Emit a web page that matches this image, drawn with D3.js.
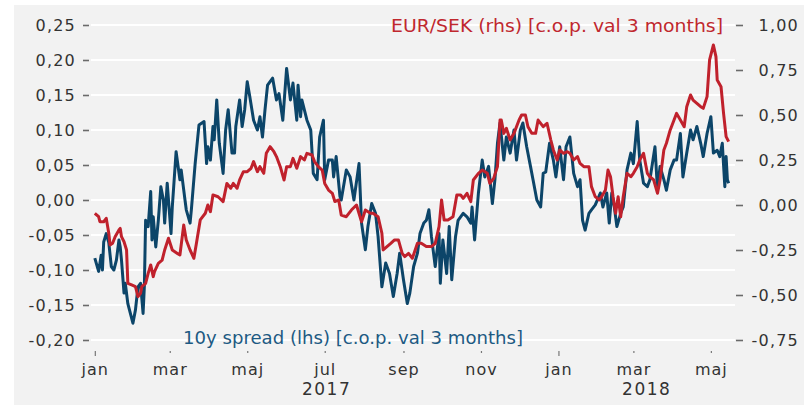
<!DOCTYPE html>
<html>
<head>
<meta charset="utf-8">
<script src="https://cdn.jsdelivr.net/npm/d3@7"></script>
<style>
  html, body { margin: 0; padding: 0; background: #ffffff; }
  svg { display: block; font-family: "DejaVu Sans", sans-serif; }
</style>
</head>
<body>
<svg id="chart" width="804" height="407"></svg>
<script>
// ---------- DATA ----------
// days since 2017-01-01
const spreadDays = [0,3,5,6,7,9,11,13,15,17,19,20,21,23,24,26,28,30,32,34,36,38,39,40,42,44,45,46,48,50,52,54,55,57,60,61,64,67,68,71,72,75,76,79,82,86,88,89,91,93,94,96,98,101,103,105,108,110,111,114,116,118,120,122,125,128,130,132,134,136,140,143,145,148,151,154,156,159,160,162,163,167,170,172,175,177,180,181,184,187,188,190,193,194,198,201,204,208,210,213,215,218,221,223,226,229,232,235,238,240,243,246,248,251,254,256,259,261,263,265,268,271,272,274,277,279,281,284,286,290,293,296,297,299,302,305,307,310,313,315,317,319,322,324,327,330,332,335,337,340,343,345,348,351,353,355,358,361,363,366,369,371,374,377,380,382,384,386,389,391,394,398,400,403,405,407,409,411,414,416,419,422,424,427,429,432,435,437,441,443,445,448,450,453,456,458,461,463,466,469,471,474,477,479,482,485,487,490,492,494,496,497,498,499];
const spreadValues = [-0.083,-0.102,-0.079,-0.100,-0.060,-0.048,-0.061,-0.095,-0.100,-0.086,-0.057,-0.067,-0.086,-0.133,-0.119,-0.148,-0.162,-0.176,-0.157,-0.124,-0.119,-0.162,-0.124,-0.029,-0.038,0.012,-0.057,-0.024,-0.067,-0.029,0.019,0.000,-0.033,0.024,-0.048,-0.010,0.069,0.029,0.043,0.000,-0.014,-0.033,-0.014,0.052,0.107,0.112,0.052,0.076,0.057,0.105,0.086,0.143,0.081,0.038,0.100,0.129,0.067,0.067,0.105,0.143,0.105,0.129,0.169,0.148,0.114,0.100,0.119,0.090,0.129,0.164,0.174,0.143,0.152,0.114,0.188,0.143,0.167,0.114,0.164,0.119,0.143,0.114,0.100,0.038,0.029,0.090,0.114,0.029,0.057,0.057,0.033,0.062,0.005,0.000,0.043,0.033,0.000,0.052,-0.033,-0.071,-0.038,-0.005,-0.019,-0.052,-0.124,-0.090,-0.105,-0.138,-0.105,-0.076,-0.114,-0.148,-0.133,-0.095,-0.076,-0.048,-0.033,-0.029,-0.014,-0.052,-0.095,-0.048,-0.119,-0.057,-0.105,-0.038,-0.114,-0.052,-0.029,-0.019,-0.024,-0.033,-0.010,-0.057,0.010,0.057,0.033,0.048,-0.005,0.029,0.081,0.110,0.057,0.090,0.067,0.100,0.057,0.100,0.110,0.076,0.048,0.029,0.000,-0.010,0.038,0.040,0.081,0.057,0.033,0.076,0.029,0.076,0.090,0.038,0.019,0.029,-0.029,-0.043,-0.019,-0.014,-0.007,0.010,-0.010,0.010,-0.033,0.010,-0.010,-0.038,-0.019,-0.010,0.043,0.067,0.052,0.112,0.057,0.024,0.019,0.029,0.076,0.014,0.048,0.029,0.014,0.043,0.057,0.057,0.095,0.033,0.067,0.100,0.086,0.105,0.081,0.062,0.095,0.119,0.067,0.071,0.062,0.081,0.019,0.062,0.029,0.024];

const eursekDays = [0,3,4,7,9,11,12,14,16,19,20,21,23,25,26,29,32,34,36,37,40,42,44,46,47,50,53,55,58,61,65,67,70,72,75,78,80,83,87,89,91,93,97,101,104,107,109,112,114,117,120,123,125,128,130,133,135,138,141,143,146,149,151,154,156,159,162,165,167,171,173,176,179,181,184,187,189,192,194,198,202,206,210,213,217,219,223,226,227,230,233,236,239,242,244,247,250,254,257,261,265,268,271,273,275,278,282,285,288,290,293,296,298,302,305,309,311,314,317,319,320,322,324,327,330,334,336,339,341,344,347,349,353,356,359,361,364,366,369,372,374,377,380,382,385,389,391,394,397,399,402,404,406,408,410,412,414,416,419,422,424,427,429,432,435,437,440,443,445,448,450,453,456,458,461,464,466,469,471,474,477,479,482,484,487,489,490,493,495,497,499];
const eursekValues = [-0.046,-0.065,-0.093,-0.093,-0.074,-0.157,-0.222,-0.213,-0.176,-0.139,-0.130,-0.176,-0.204,-0.250,-0.435,-0.444,-0.454,-0.509,-0.491,-0.454,-0.435,-0.380,-0.333,-0.398,-0.370,-0.324,-0.306,-0.250,-0.185,-0.250,-0.269,-0.278,-0.111,-0.194,-0.250,-0.296,-0.213,-0.083,-0.046,0.000,-0.037,0.056,0.046,0.019,0.120,0.093,0.120,0.093,0.139,0.185,0.185,0.204,0.241,0.185,0.213,0.176,0.287,0.324,0.296,0.269,0.213,0.139,0.213,0.213,0.259,0.204,0.269,0.250,0.287,0.278,0.241,0.213,
0.194,0.120,0.083,0.065,0.019,0.028,-0.056,-0.065,-0.028,0.000,-0.093,-0.028,-0.046,-0.046,-0.065,-0.157,-0.250,-0.231,-0.213,-0.194,-0.194,-0.269,-0.287,-0.269,-0.296,-0.213,-0.213,-0.231,-0.231,-0.213,-0.120,0.028,-0.083,-0.083,-0.065,0.056,0.056,0.037,0.065,0.019,0.139,0.176,0.194,0.176,0.120,0.148,0.213,0.472,0.472,0.398,0.426,0.361,0.398,0.472,0.500,0.500,0.435,0.398,0.398,0.472,
0.435,0.454,0.361,0.306,0.250,0.306,0.287,0.296,0.287,0.250,0.269,0.231,0.213,0.213,0.102,0.046,0.028,0.046,0.083,0.194,0.157,0.046,-0.046,0.046,-0.065,0.046,0.176,0.157,0.176,0.213,0.250,0.287,0.176,0.157,0.139,0.065,0.139,0.306,0.343,0.417,0.472,0.509,0.472,0.435,0.546,0.611,0.583,0.565,0.546,0.537,0.602,0.806,0.889,0.824,0.694,0.657,0.509,0.380,0.352];

const leftTicks = [-0.20,-0.15,-0.10,-0.05,0.00,0.05,0.10,0.15,0.20,0.25];
const rightTicks = [-0.75,-0.50,-0.25,0.00,0.25,0.50,0.75,1.00];
const monthTicks = ["2017-01-01","2017-03-01","2017-05-01","2017-07-01","2017-09-01","2017-11-01","2018-01-01","2018-03-01","2018-05-01"];
const monthLabels = ["jan","mar","maj","jul","sep","nov","jan","mar","maj"];
const yearLabels = ["2017","2018"];
const yearStarts = ["2017-01-01","2018-01-01"];
const xDomain = ["2016-12-29","2018-05-20"];
const spreadLabel = "10y spread (lhs) [c.o.p. val 3 months]";
const eursekLabel = "EUR/SEK (rhs) [c.o.p. val 3 months]";

if (spreadDays.length !== spreadValues.length) throw new Error("spread length mismatch " + spreadDays.length + " vs " + spreadValues.length);
if (eursekDays.length !== eursekValues.length) throw new Error("eursek length mismatch " + eursekDays.length + " vs " + eursekValues.length);

// ---------- SETUP ----------
const parse = d3.utcParse("%Y-%m-%d");
const origin = parse("2017-01-01");
const toDate = d => d3.utcDay.offset(origin, d);
const spread = spreadDays.map((d, i) => ({ date: toDate(d), value: spreadValues[i] }));
const eursek = eursekDays.map((d, i) => ({ date: toDate(d), value: eursekValues[i] }));

const locale = d3.formatLocale({ decimal: ",", thousands: ".", grouping: [3], currency: ["", ""], minus: "-" });
const fmt = locale.format(".2f");

const svg = d3.select("#chart");
const W = 804, H = 407;
const plot = { left: 91, right: 735, top: 25, bottom: 340 };

const x = d3.scaleUtc().domain(xDomain.map(parse)).range([plot.left, plot.right]);
const yL = d3.scaleLinear().domain([-0.20, 0.25]).range([plot.bottom, plot.top]);
const yR = d3.scaleLinear().domain([-0.75, 1.00]).range([plot.bottom, plot.top]);

// background
svg.append("rect").attr("x", 14).attr("y", 5).attr("width", W - 14).attr("height", 400).attr("fill", "#f2f2f2");

// gridlines
svg.append("g").selectAll("line").data(leftTicks).join("line")
  .attr("x1", plot.left).attr("x2", plot.right)
  .attr("y1", d => yL(d)).attr("y2", d => yL(d))
  .attr("stroke", "#ffffff").attr("stroke-width", 2.2);

// left axis
const gL = svg.append("g").attr("transform", `translate(${plot.left - 2},0)`)
  .call(d3.axisLeft(yL).tickValues(leftTicks).tickFormat(fmt).tickSize(6).tickPadding(7));
gL.select(".domain").remove();
gL.selectAll(".tick line").attr("stroke", "#6a6a6a").attr("stroke-width", 1.6);
gL.selectAll(".tick text").attr("fill", "#333333").attr("font-size", 16).attr("letter-spacing", 1.2)
  .attr("font-family", "DejaVu Sans, sans-serif");

// right axis
const gR = svg.append("g").attr("transform", `translate(${plot.right + 1},0)`)
  .call(d3.axisRight(yR).tickValues(rightTicks).tickFormat(fmt).tickSize(7).tickPadding(10));
gR.select(".domain").remove();
gR.selectAll(".tick line").attr("stroke", "#6a6a6a").attr("stroke-width", 1.6);
gR.selectAll(".tick text").attr("fill", "#333333").attr("font-size", 16).attr("letter-spacing", 1.2)
  .attr("text-anchor", "end").attr("x", 799 - (plot.right + 1))
  .attr("font-family", "DejaVu Sans, sans-serif");

// bottom axis
const monthDates = monthTicks.map(parse);
const gB = svg.append("g").attr("transform", `translate(0,351)`)
  .call(d3.axisBottom(x).tickValues(monthDates).tickFormat((d, i) => monthLabels[i]).tickSize(2).tickPadding(0));
gB.select(".domain").remove();
gB.selectAll(".tick line")
  .attr("y2", d => d.getUTCMonth() === 0 ? 5 : 2)
  .attr("stroke", "#777777").attr("stroke-width", 1.2);
gB.selectAll(".tick text").attr("y", 24).attr("dy", 0).attr("fill", "#333333").attr("font-size", 16)
  .attr("letter-spacing", 1).attr("font-family", "DejaVu Sans, sans-serif");

// year labels
const yearBounds = yearStarts.map(parse);
svg.append("g").selectAll("text").data(yearLabels).join("text")
  .attr("x", (d, i) => {
    const a = x(yearBounds[i]);
    const b = i + 1 < yearBounds.length ? x(yearBounds[i + 1]) : plot.right;
    return (a + b) / 2;
  })
  .attr("y", 395).attr("text-anchor", "middle").attr("fill", "#333333")
  .attr("font-size", 17).attr("letter-spacing", 1.5).text(d => d);

// lines
const lineL = d3.line().x(d => x(d.date)).y(d => yL(d.value));
const lineR = d3.line().x(d => x(d.date)).y(d => yR(d.value));

svg.append("path").datum(spread).attr("d", lineL)
  .attr("fill", "none").attr("stroke", "#0c4569").attr("stroke-width", 3).attr("stroke-linejoin", "round");
svg.append("path").datum(eursek).attr("d", lineR)
  .attr("fill", "none").attr("stroke", "#c0212c").attr("stroke-width", 3).attr("stroke-linejoin", "round");

// legend labels
svg.append("text").attr("x", 183).attr("y", 343.5).attr("fill", "#1d5a83")
  .attr("font-size", 17).attr("textLength", 340).attr("lengthAdjust", "spacingAndGlyphs")
  .text(spreadLabel);
svg.append("text").attr("x", 723).attr("y", 32).attr("fill", "#c0282e").attr("text-anchor", "end")
  .attr("font-size", 17).attr("textLength", 332).attr("lengthAdjust", "spacingAndGlyphs")
  .text(eursekLabel);
</script>
</body>
</html>
